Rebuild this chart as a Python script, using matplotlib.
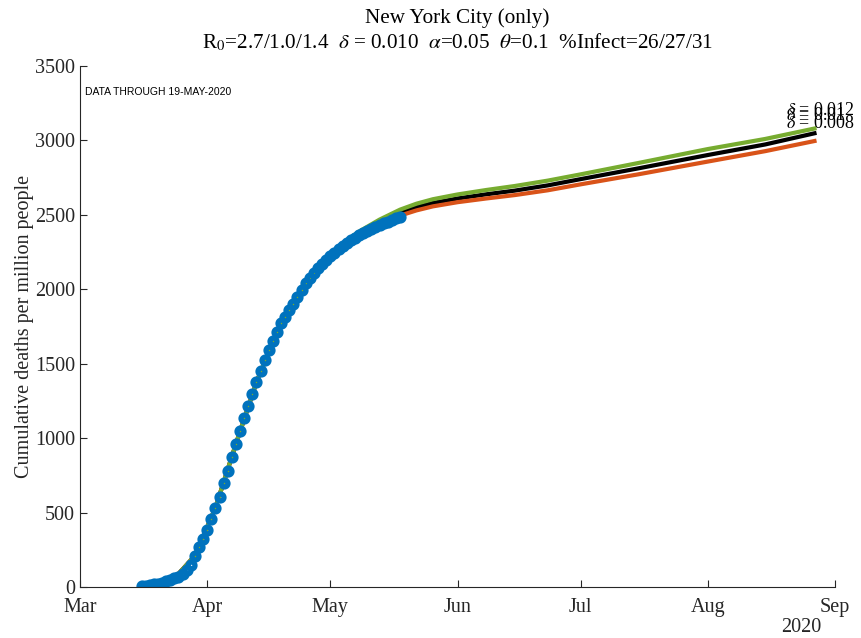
import numpy as np
import matplotlib
matplotlib.use("Agg")
import matplotlib.pyplot as plt

plt.rcParams['font.family'] = ['Liberation Serif', 'DejaVu Serif']
plt.rcParams['mathtext.fontset'] = 'stix'

# observed data, one value per day starting on data_start
data_start = '2020-03-16'
deaths_per_million = [5, 8, 12, 17, 23, 30, 38, 47, 58, 70, 90, 115, 150, 210, 268,
                      322, 383, 457, 531, 607, 698, 781, 876, 961, 1048, 1133, 1218,
                      1297, 1375, 1453, 1525, 1592, 1653, 1713, 1771, 1816, 1859, 1899,
                      1946, 1995, 2040, 2075, 2110, 2140, 2170, 2198, 2222, 2245, 2268,
                      2290, 2310, 2328, 2345, 2362, 2377, 2391, 2405, 2419, 2432, 2444,
                      2455, 2466, 2477, 2487]

# model curves (sampled dates)
model_dates = ['2020-03-16', '2020-03-19', '2020-03-24', '2020-03-29', '2020-04-03',
               '2020-04-08', '2020-04-13', '2020-04-18', '2020-04-23', '2020-04-28',
               '2020-05-03', '2020-05-08', '2020-05-13', '2020-05-18', '2020-05-22',
               '2020-05-26', '2020-06-01', '2020-06-08', '2020-06-15', '2020-06-23',
               '2020-07-01', '2020-07-15', '2020-08-01', '2020-08-15', '2020-08-27']
model_d010 = [5, 17, 58, 210, 531, 961, 1375, 1713, 1946, 2140, 2280, 2375, 2450, 2515,
              2552, 2580, 2610, 2638, 2663, 2698, 2740, 2812, 2902, 2973, 3048]
model_d012 = [5, 17, 58, 210, 531, 961, 1375, 1713, 1946, 2143, 2288, 2388, 2468, 2535,
              2575, 2605, 2637, 2667, 2694, 2730, 2772, 2848, 2942, 3010, 3080]
model_d008 = [5, 17, 58, 210, 531, 961, 1375, 1713, 1946, 2137, 2272, 2362, 2432, 2495,
              2530, 2557, 2585, 2610, 2633, 2665, 2705, 2772, 2858, 2928, 2996]

month_ticks = ['2020-03-01', '2020-04-01', '2020-05-01', '2020-06-01',
               '2020-07-01', '2020-08-01', '2020-09-01']
month_labels = ['Mar', 'Apr', 'May', 'Jun', 'Jul', 'Aug', 'Sep']

data_dates = np.arange(np.datetime64(data_start), np.datetime64(data_start) + len(deaths_per_million))
mdates_model = np.array(model_dates, dtype='datetime64[D]')

fig = plt.figure(figsize=(8.62, 6.38), dpi=100)
ax = fig.add_axes([80/862, 51/638, 755/862, 521/638])

ax.plot(mdates_model, model_d010, color='black', lw=3)
ax.plot(mdates_model, model_d008, color='#D95319', lw=3)
ax.plot(mdates_model, model_d012, color='#77AC30', lw=3)
ax.plot(data_dates, deaths_per_million, 'o', mfc='none', mec='#0072BD', ms=5, mew=3.8)

# curve labels
end = mdates_model[-1] - np.timedelta64(7, 'D')
for lab, vals in [('$\\delta$ = 0.012', model_d012), ('$\\delta$ = 0.01', model_d010),
                  ('$\\delta$ = 0.008', model_d008)]:
    ax.text(end, vals[-1] + 120, lab, fontsize=13, va='center', ha='left')

ax.set_xlim(np.datetime64('2020-03-01'), np.datetime64('2020-09-01'))
ax.set_ylim(0, 3500)
ax.set_xticks(np.array(month_ticks, dtype='datetime64[D]'))
ax.set_xticklabels(month_labels)
ax.set_yticks(np.arange(0, 3501, 500))
ax.tick_params(direction='in', length=5, labelsize=14.5, colors='#262626')
ax.tick_params(axis='x', pad=8)
for s in ['top', 'right']:
    ax.spines[s].set_visible(False)
for s in ['left', 'bottom']:
    ax.spines[s].set_color('#262626')
ax.set_ylabel('Cumulative deaths per million people', fontsize=14.5, color='#262626', labelpad=1)

ax.text(0.955, -0.077, '2020', transform=ax.transAxes, fontsize=14.5, ha='center', va='center', color='#262626')
ax.text(0.006, 0.95, 'DATA THROUGH 19-MAY-2020', transform=ax.transAxes, fontsize=7.5,
        family='Liberation Sans', va='center', ha='left')

ax.text(0.5, 1.092, 'New York City (only)', transform=ax.transAxes, fontsize=15.2, ha='center', va='center')
ax.text(0.5, 1.045, 'R$_0$=2.7/1.0/1.4  $\\delta$ = 0.010  $\\alpha$=0.05  $\\theta$=0.1  %Infect=26/27/31',
        transform=ax.transAxes, fontsize=15.2, ha='center', va='center')

fig.savefig('out.png', dpi=100)
